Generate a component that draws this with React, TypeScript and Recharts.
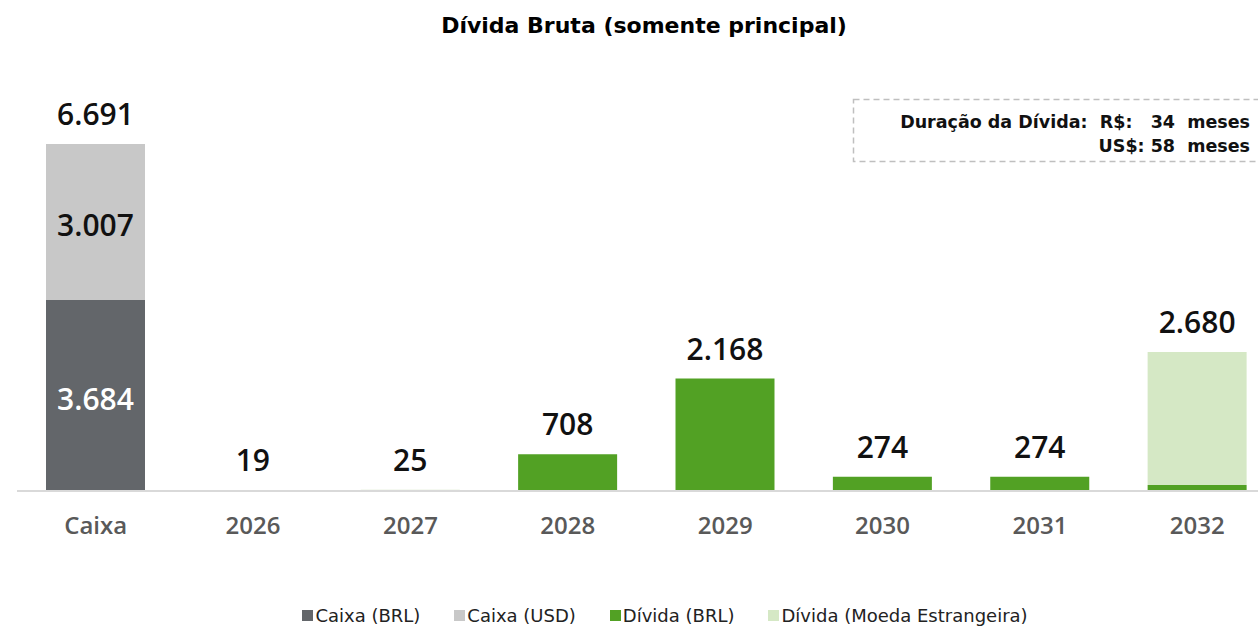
import React from "react";
import { BarChart, Bar, XAxis, YAxis, LabelList } from "recharts";

const categories = ["Caixa", "2026", "2027", "2028", "2029", "2030", "2031", "2032"];
const caixaBRL = [3684, 0, 0, 0, 0, 0, 0, 0];
const caixaUSD = [3007, 0, 0, 0, 0, 0, 0, 0];
const dividaBRL = [0, 19, 0, 708, 2168, 274, 274, 116];
const dividaEstr = [0, 0, 25, 0, 0, 0, 0, 2564];

const COLORS = {
  caixaBRL: "#63666a",
  caixaUSD: "#c8c8c8",
  dividaBRL: "#52a124",
  dividaEstr: "#d5e8c5",
};

const LEGEND = [
  { label: "Caixa (BRL)", color: COLORS.caixaBRL },
  { label: "Caixa (USD)", color: COLORS.caixaUSD },
  { label: "Dívida (BRL)", color: COLORS.dividaBRL },
  { label: "Dívida (Moeda Estrangeira)", color: COLORS.dividaEstr },
];

// stacking order, bottom to top
const SERIES = [caixaBRL, caixaUSD, dividaBRL, dividaEstr];

const fmt = (v: number) => String(v).replace(/\B(?=(\d{3})+(?!\d))/g, ".");

const data = categories.map((c, i) => ({
  name: c,
  caixaBRL: caixaBRL[i],
  caixaUSD: caixaUSD[i],
  dividaBRL: dividaBRL[i],
  dividaEstr: dividaEstr[i],
  total: caixaBRL[i] + caixaUSD[i] + dividaBRL[i] + dividaEstr[i],
}));

const NUM_FONT = "'Open Sans', sans-serif";
const VERDANA = "'DejaVu Sans', Verdana, sans-serif";

const topSeries = (i: number) => {
  let top = -1;
  SERIES.forEach((s, k) => {
    if (s[i] > 0) top = k;
  });
  return top;
};

// total above the stack, drawn by whichever series sits on top
const TotalLabel = (seriesIdx: number) => (props: any) => {
  const { x, y, width, value } = props;
  const i = categories.indexOf(String(value));
  if (i < 0 || topSeries(i) !== seriesIdx) return null;
  return (
    <text
      x={x + width / 2}
      y={y - 19}
      textAnchor="middle"
      fontFamily={NUM_FONT}
      fontWeight={600}
      fontSize={30}
      fill="#111"
    >
      {fmt(data[i].total)}
    </text>
  );
};

const InnerLabel = (color: string) => (props: any) => {
  const { x, y, width, height, value } = props;
  if (!value) return null;
  return (
    <text
      x={x + width / 2}
      y={y + height / 2 + 3}
      textAnchor="middle"
      dominantBaseline="central"
      fontFamily={NUM_FONT}
      fontWeight={600}
      fontSize={30}
      fill={color}
    >
      {fmt(value)}
    </text>
  );
};

export default function App() {
  return (
    <div
      style={{
        position: "absolute",
        left: 0,
        top: 0,
        width: 1258,
        height: 627,
        overflow: "hidden",
        background: "#fff",
      }}
    >
      <div
        style={{
          position: "absolute",
          left: 0,
          top: 13,
          width: 1288,
          textAlign: "center",
          fontFamily: VERDANA,
          fontWeight: "bold",
          fontSize: 22,
          color: "#000",
        }}
      >
        Dívida Bruta (somente principal)
      </div>

      <BarChart
        width={1276}
        height={627}
        data={data}
        margin={{ top: 76, right: 0, left: 17, bottom: 96 }}
      >
        <YAxis hide domain={[0, 8000]} />
        <XAxis
          dataKey="name"
          height={40}
          axisLine={{ stroke: "#d9d9d9", strokeWidth: 2 }}
          tickLine={false}
          tick={{ fontSize: 24, fontFamily: NUM_FONT, fontWeight: 600, fill: "#595959" }}
          tickMargin={20}
        />
        <Bar dataKey="caixaBRL" stackId="a" fill={COLORS.caixaBRL} barSize={99} isAnimationActive={false}>
          <LabelList dataKey="caixaBRL" content={InnerLabel("#fff")} />
        </Bar>
        <Bar dataKey="caixaUSD" stackId="a" fill={COLORS.caixaUSD} barSize={99} isAnimationActive={false}>
          <LabelList dataKey="caixaUSD" content={InnerLabel("#111")} />
          <LabelList dataKey="name" content={TotalLabel(1)} />
        </Bar>
        <Bar dataKey="dividaBRL" stackId="a" fill={COLORS.dividaBRL} barSize={99} isAnimationActive={false}>
          <LabelList dataKey="name" content={TotalLabel(2)} />
        </Bar>
        <Bar dataKey="dividaEstr" stackId="a" fill={COLORS.dividaEstr} barSize={99} isAnimationActive={false}>
          <LabelList dataKey="name" content={TotalLabel(3)} />
        </Bar>
      </BarChart>

      {/* duration box */}
      <svg style={{ position: "absolute", left: 0, top: 0 }} width={1258} height={627} pointerEvents="none">
        <rect
          x={853.5}
          y={99.5}
          width={420}
          height={62}
          fill="none"
          stroke="#bfbfbf"
          strokeWidth={1.5}
          strokeDasharray="6 4"
        />
      </svg>
      <div
        style={{
          position: "absolute",
          right: 8,
          top: 110,
          textAlign: "right",
          fontFamily: VERDANA,
          fontWeight: "bold",
          fontSize: 17.5,
          lineHeight: "24px",
          color: "#111",
          whiteSpace: "pre",
        }}
      >
        {"Duração da Dívida:  R$:   34  meses\nUS$: 58  meses"}
      </div>

      {/* legend */}
      <div
        style={{
          position: "absolute",
          left: 0,
          top: 605,
          width: 1330,
          display: "flex",
          justifyContent: "center",
          gap: 34,
          fontFamily: VERDANA,
          fontSize: 18,
          color: "#222",
        }}
      >
        {LEGEND.map((l) => (
          <div key={l.label} style={{ display: "flex", alignItems: "center", gap: 2 }}>
            <div style={{ width: 11, height: 11, background: l.color }} />
            <span>{l.label}</span>
          </div>
        ))}
      </div>
    </div>
  );
}
